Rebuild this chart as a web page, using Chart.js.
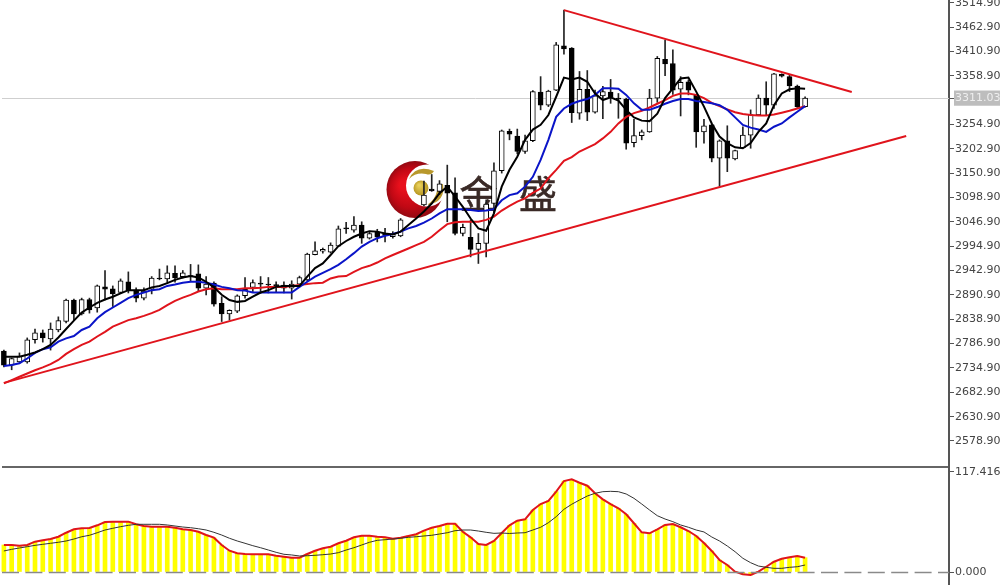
<!DOCTYPE html>
<html>
<head>
<meta charset="utf-8">
<script src="https://cdn.jsdelivr.net/npm/chart.js@4"></script>
<style>
  html, body { margin: 0; padding: 0; background: #fff; overflow: hidden; }
  canvas { position: absolute; left: 0; filter: blur(0.3px); }
  #priceChart { top: 0; }
  #macdChart { top: 466px; }
</style>
</head>
<body>
<canvas id="priceChart" width="1000" height="466"></canvas>
<canvas id="macdChart" width="1000" height="119"></canvas>
<script>
// Candles (null = hidden behind the logo)
const opens = [2771,2741,2748,2748,2795,2810,2797,2816,2834,2880,2850,2881,2863,2908,2904,2896,2919,2901,2884,2903,2927,2925,2937,2930,2932,2936,2905,2916,2873,2850,2856,2889,2907,2916,2914,2913,2912,2905,2914,2923,2977,2984,2982,2995,3034,3029,3040,3012,3025,3020,3015,3017,null,null,3083,3117,3112,3125,3109,3022,3014,2988,3001,3086,3156,3240,3230,3197,3220,3324,3296,3328,3423,3418,3279,3330,3281,3316,3324,3311,3309,3216,3231,3239,3311,3394,3385,3330,3346,3318,3239,3254,3183,3220,3181,3205,3232,3275,3311,3296,3362,3357,3337,3293];
const closes = [2741,2755,2760,2795,2810,2799,2818,2836,2880,2850,2881,2859,2910,2903,2893,2921,2901,2884,2899,2927,2925,2938,2927,2938,2930,2905,2914,2871,2850,2858,2889,2903,2917,2914,2912,2909,2905,2914,2928,2978,2985,2988,2997,3032,3032,3040,3012,3022,3014,3018,3021,3051,null,null,3104,3113,3128,3108,3022,3035,2988,3001,3085,3156,3241,3234,3197,3220,3325,3296,3326,3425,3416,3280,3330,3281,3316,3325,3313,3309,3215,3231,3239,3311,3396,3384,3328,3345,3328,3239,3252,3183,3220,3183,3199,3232,3276,3311,3296,3363,3358,3337,3293,3311];
const highs = [2773,2756,2767,2799,2818,2816,2831,2844,2882,2882,2884,2884,2912,2943,2910,2925,2940,2906,2906,2930,2946,2953,2953,2943,2956,2955,2930,2919,2887,2859,2891,2928,2923,2930,2928,2919,2919,2921,2931,2980,3004,2991,3002,3038,3046,3058,3047,3027,3031,3033,3026,3054,null,null,3134,3148,3135,3168,3141,3042,3051,3022,3094,3173,3243,3245,3245,3232,3327,3357,3328,3430,3499,3419,3368,3370,3328,3336,3351,3321,3311,3266,3243,3330,3400,3435,3414,3357,3350,3318,3266,3255,3222,3252,3200,3250,3286,3318,3346,3364,3363,3360,3339,3314];
const lows = [2737,2731,2745,2745,2788,2790,2773,2812,2831,2837,2848,2852,2854,2880,2866,2895,2895,2876,2880,2893,2923,2916,2918,2927,2919,2898,2891,2867,2834,2837,2853,2884,2898,2895,2895,2898,2895,2882,2908,2921,2976,2980,2980,2994,3022,3025,3001,3010,3004,3004,3012,3015,null,null,3081,3112,3105,3047,3019,3017,2972,2958,2972,3066,3151,3222,3192,3193,3218,3286,3293,3327,3405,3259,3266,3263,3279,3267,3300,3268,3202,3207,3222,3238,3302,3359,3319,3273,3318,3206,3215,3175,3123,3154,3179,3205,3204,3274,3275,3289,3356,3325,3291,3292];

// Moving averages
const maFast = [2759,2759,2759,2763,2768,2775,2784,2800,2818,2836,2853,2864,2874,2881,2887,2894,2901,2901,2901,2907,2910,2916,2923,2928,2931,2928,2919,2907,2891,2880,2876,2878,2887,2896,2901,2908,2910,2910,2910,2930,2948,2958,2976,2995,3006,3015,3022,3027,3026,3022,3020,3026,3040,3054,3069,3086,3108,3122,3101,3079,3054,3033,3028,3065,3122,3158,3186,3222,3244,3254,3275,3314,3355,3351,3355,3346,3321,3307,3313,3306,3286,3270,3263,3262,3278,3311,3332,3353,3355,3325,3293,3257,3229,3215,3206,3204,3215,3239,3257,3296,3321,3330,3332,3331];
const maMid = [2739,2741,2745,2755,2767,2775,2779,2791,2798,2803,2816,2823,2841,2854,2864,2874,2884,2891,2896,2901,2903,2910,2913,2917,2919,2919,2917,2913,2908,2905,2901,2900,2896,2896,2896,2896,2896,2896,2908,2919,2930,2938,2946,2955,2967,2980,2994,3004,3012,3017,3021,3026,3033,3038,3045,3054,3065,3074,3074,3074,3072,3070,3071,3074,3093,3104,3108,3122,3143,3179,3222,3271,3289,3299,3305,3309,3318,3332,3332,3331,3318,3300,3286,3286,3292,3299,3305,3309,3309,3305,3303,3300,3296,3286,3270,3254,3248,3244,3239,3250,3257,3270,3282,3294];
const maSlow = [2702,2709,2716,2723,2730,2736,2743,2752,2765,2775,2784,2791,2802,2812,2823,2830,2837,2841,2846,2852,2859,2869,2878,2885,2891,2898,2903,2905,2903,2903,2903,2905,2905,2906,2908,2908,2908,2910,2912,2914,2916,2917,2926,2930,2931,2940,2948,2953,2960,2969,2976,2983,2990,2997,3004,3015,3029,3042,3046,3047,3047,3047,3051,3058,3071,3081,3090,3097,3109,3118,3140,3158,3177,3185,3197,3205,3213,3225,3239,3257,3271,3279,3284,3291,3299,3307,3316,3321,3321,3318,3311,3301,3294,3287,3281,3277,3275,3274,3274,3276,3280,3284,3289,3294];

// Trend lines: bar number and price of each end
const resistanceBars = [72, 109];
const resistancePrices = [3499, 3324];
const supportBars = [0, 116];
const supportPrices = [2703, 3230];

// Lower pane
const macdMain = [31.7,31.7,30.9,31.7,35.6,37.2,38.7,41.4,46.1,50.1,51.3,51.7,54.8,58.7,59.1,59.1,59.1,56,54,53.2,53.2,53.2,52,50.1,49.3,47.3,43.4,40.3,31.7,25,22,21.1,20.8,20.8,20.8,19.1,18,16.8,16.8,21.1,25,27.8,29.7,33.7,36.7,40.7,42.6,42.6,41.4,40.7,39.1,40.3,42.3,44.3,48.5,52,54,56.7,56.7,47.3,40.7,32.9,31.7,36.4,45.8,54.8,60.2,61.9,72.8,79.8,83.4,94.3,106.8,108.8,104.8,101.3,92.4,85.3,79.8,74.8,67.7,57.2,46.6,45.4,50.1,55.2,56.4,52.5,48.1,42.3,34,24.7,14.1,8.2,0.4,-2.7,-3.5,0.4,6.2,12.1,15.6,17.3,18.8,16.8];
const macdSignal = [24.7,26.6,28.2,29.7,31.3,32.5,33.7,34.9,36.4,38.7,41.4,43.1,46.1,49.3,51.3,53.2,54.8,56,56,56,56,55.2,54,52.8,52,50.8,49.3,46.6,43.4,39.6,36.4,33.7,30.9,28.5,25.8,23.1,20.8,20,18.8,19.1,19.6,20.3,21.1,22.7,25.8,28.5,31.7,34.9,37.2,37.9,38.7,39.6,40.7,41.4,42.3,43.1,44.6,46.1,48.5,49.3,49.3,48.1,46.6,45.4,45.8,45.2,45.8,46.1,49.3,52.5,57.9,64.9,73.6,79.5,84.5,89.2,92.4,94.3,94.7,94.3,91.6,86.5,79.8,72.8,66.1,62.2,59.1,55.2,52.5,49.3,47,41.1,36.4,30.5,23.8,16.1,10.9,7,5.5,4.3,4.3,5.5,6.2,8.2];

// Axis
const priceTicks = [3514.9,3462.9,3410.9,3358.9,3254.9,3202.9,3150.9,3098.9,3046.9,2994.9,2942.9,2890.9,2838.9,2786.9,2734.9,2682.9,2630.9,2578.9];
const lastPrice = 3311.03;
const macdTicks = [117.416, 0];

const slots = Array.from({ length: 122 }, (_, i) => String(i));
const axisColor = '#555';
const labelFont = { family: '"DejaVu Sans"', size: 11 };

function ohlcBars(a, b) {
    return a.map((v, i) => (v === null ? null : [v, b[i]]));
}

function lineSet(data, color, width, order) {
    return { type: 'line', data, borderColor: color, borderWidth: width, pointRadius: 0, tension: 0, order };
}

function endPoints(bars, values) {
    return bars.map((b, i) => ({ x: slots[b], y: values[i] }));
}

function rightAxis(min, max, ticks, format, extra) {
    return Object.assign({
        position: 'right',
        min,
        max,
        afterBuildTicks: s => { s.ticks = ticks.map(value => ({ value })); },
        // the pane runs edge to edge, no room kept for the outer labels
        afterFit: s => { s.width = 51; s.paddingTop = 0; s.paddingBottom = 0; },
        border: { display: true, color: axisColor, width: 2 },
        grid: { drawOnChartArea: false, drawTicks: true, tickLength: 5, color: axisColor },
        ticks: { autoSkip: false, padding: 1, font: labelFont, color: '#444', callback: format, maxRotation: 0 }
    }, extra || {});
}

// Watermark under the candles
const watermark = {
    id: 'watermark',
    beforeDatasetsDraw(chart) {
        const c = chart.ctx;
        c.save();
        const red = c.createRadialGradient(403, 185, 4, 415, 190, 30);
        red.addColorStop(0, '#e8101c');
        red.addColorStop(0.6, '#c00814');
        red.addColorStop(1, '#8a0a12');
        c.fillStyle = red;
        c.beginPath(); c.arc(415, 189.5, 28.5, 0, Math.PI * 2); c.fill();
        c.fillStyle = '#fff';
        c.beginPath(); c.arc(427, 185.5, 21, 0, Math.PI * 2); c.fill();
        const gold = c.createRadialGradient(419, 185, 1, 421, 188, 8);
        gold.addColorStop(0, '#e8cf5a');
        gold.addColorStop(1, '#b5941f');
        c.fillStyle = gold;
        c.beginPath(); c.arc(421, 188, 7.5, 0, Math.PI * 2); c.fill();
        c.fillStyle = '#b8982c';
        c.beginPath();
        c.moveTo(409, 179);
        c.quadraticCurveTo(416, 164, 434, 171);
        c.quadraticCurveTo(431, 176, 426, 174);
        c.quadraticCurveTo(416, 172, 409, 179);
        c.fill();
        c.beginPath();
        c.moveTo(427, 205);
        c.quadraticCurveTo(446, 202, 443, 184);
        c.quadraticCurveTo(438, 185, 437, 191);
        c.quadraticCurveTo(435, 200, 427, 205);
        c.fill();
        c.fillStyle = '#3a2a26';
        c.strokeStyle = '#3a2a26';
        c.lineWidth = 0.6;
        c.font = '38px "Noto Sans CJK SC"';
        c.textBaseline = 'alphabetic';
        c.fillText('金', 459.5, 208);
        c.strokeText('金', 459.5, 208);
        c.fillText('盛', 519, 208);
        c.strokeText('盛', 519, 208);
        c.restore();
    }
};

// Last price line across the pane
const priceLine = {
    id: 'priceLine',
    beforeDatasetsDraw(chart) {
        const y = Math.round(chart.scales.y.getPixelForValue(lastPrice)) + 0.5;
        const c = chart.ctx;
        c.save();
        c.strokeStyle = '#cfcfcf';
        c.lineWidth = 1;
        c.beginPath(); c.moveTo(2, y); c.lineTo(chart.chartArea.right, y); c.stroke();
        c.restore();
    }
};

// Pane separator and dashed zero line
const macdFrame = {
    id: 'macdFrame',
    beforeDraw(chart) {
        chart.ctx.fillStyle = '#666';
        chart.ctx.fillRect(2, 0, chart.chartArea.right - 2, 2);
    },
    afterDatasetsDraw(chart) {
        const y = Math.round(chart.scales.y.getPixelForValue(0)) + 0.5;
        const c = chart.ctx;
        c.save();
        c.strokeStyle = '#8a8a8a';
        c.lineWidth = 1.5;
        c.setLineDash([17, 6.4]);
        c.beginPath(); c.moveTo(2, y); c.lineTo(chart.chartArea.right, y); c.stroke();
        c.restore();
    }
};

const baseOptions = {
    responsive: false,
    animation: false,
    devicePixelRatio: 1,
    layout: { autoPadding: false, padding: 0 },
    plugins: { legend: { display: false }, tooltip: { enabled: false } }
};

new Chart(document.getElementById('priceChart'), {
    type: 'bar',
    data: {
        labels: slots,
        datasets: [
            lineSet(endPoints(resistanceBars, resistancePrices), '#e0141c', 2, 0),
            lineSet(endPoints(supportBars, supportPrices), '#e0141c', 2, 0),
            lineSet(maFast, '#000', 2, 1),
            lineSet(maMid, '#0a14c8', 2, 2),
            lineSet(maSlow, '#e0141c', 2, 3),
            {
                data: ohlcBars(opens, closes),
                backgroundColor: opens.map((o, i) => (closes[i] >= o ? '#fff' : '#000')),
                borderColor: '#000',
                borderWidth: 1,
                borderSkipped: false,
                barThickness: 5,
                grouped: false,
                order: 5
            },
            {
                data: ohlcBars(lows, highs),
                backgroundColor: '#222',
                barThickness: 1,
                grouped: false,
                order: 6
            }
        ]
    },
    options: Object.assign({}, baseOptions, {
        scales: {
            x: { display: false },
            y: rightAxis(2525.5, 3520.6, priceTicks.concat(lastPrice), v => v.toFixed(2), {
                ticks: {
                    autoSkip: false, padding: 1, font: labelFont, maxRotation: 0,
                    callback: v => v.toFixed(2),
                    color: ctx => (ctx.tick.value === lastPrice ? '#eee' : '#444'),
                    showLabelBackdrop: ctx => ctx.tick.value === lastPrice,
                    backdropColor: '#bdbdbd',
                    backdropPadding: 1
                }
            })
        }
    }),
    plugins: [watermark, priceLine]
});

new Chart(document.getElementById('macdChart'), {
    type: 'bar',
    data: {
        labels: slots,
        datasets: [
            lineSet(macdSignal, '#333', 1, 0),
            lineSet(macdMain, '#e0141c', 2, 1),
            { data: macdMain, backgroundColor: '#ffff00', barThickness: 4, order: 2 }
        ]
    },
    options: Object.assign({}, baseOptions, {
        scales: {
            x: { display: false },
            y: rightAxis(-15.26, 124.44, macdTicks, v => v.toFixed(3))
        }
    }),
    plugins: [macdFrame]
});
</script>
</body>
</html>
